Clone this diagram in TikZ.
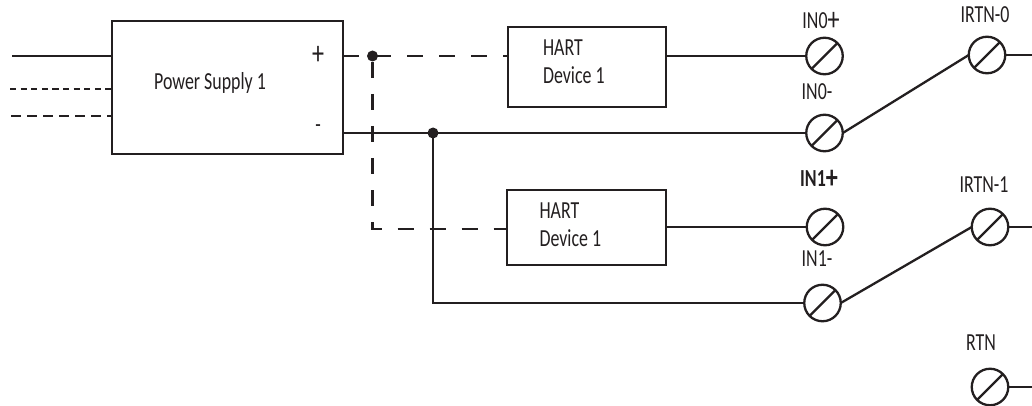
\documentclass[tikz,border=0pt]{standalone}
\usepackage{fontspec}
\setmainfont[FakeStretch=0.73]{Carlito}
\newcommand{\lbl}{\fontsize{24.5}{24.5}\selectfont}
\newcommand{\bigplus}{{\fontsize{33}{33}\selectfont\raisebox{-2.5pt}{+}}}
\definecolor{ink}{HTML}{231F20}
\tikzset{
  wire/.style={line width=2.3pt,draw=ink},
  dashwire/.style={wire,dash pattern=on 16pt off 16pt},
  dotwire/.style={wire,dash pattern=on 6.2pt off 4.4pt},
  shortdash/.style={wire,dash pattern=on 10pt off 6pt},
  box/.style={draw=ink,line width=2.3pt,rectangle,inner sep=0,outer sep=0,fill=white},
  term/.style={draw=ink,line width=2.3pt,circle,inner sep=0,outer sep=0,minimum size=36.5pt},
  junction/.style={circle,fill=ink,inner sep=0,outer sep=0,minimum size=11pt},
  txt/.style={text=ink,font=\lbl,inner sep=0,outer sep=0,anchor=center},
}
\newcommand{\termnode}[2]{%
  \node[term] (#1) at (#2) {};
  \draw[wire] (#1.south west) -- (#1.north east);}
\begin{document}
\begin{tikzpicture}[x=1pt,y=-1pt]
\useasboundingbox (0,0) rectangle (1032,406);
% boxes
\node[box,minimum width=231pt,minimum height=133pt] (ps) at (227.5,87.5) {};
\node[box,minimum width=158pt,minimum height=80pt] (dev1) at (587,67) {};
\node[box,minimum width=159pt,minimum height=75pt] (dev2) at (586.5,227.5) {};
% free ends
\coordinate (a1) at (12,56);
\coordinate (a2) at (10,89);
\coordinate (a3) at (11,116);
\coordinate (ps1) at (ps.west |- a1);
\coordinate (ps2) at (ps.west |- a2);
\coordinate (ps3) at (ps.west |- a3);
\coordinate (pplus) at (343,56);
\coordinate (pminus) at (343,133);
\coordinate (corner) at (372.5,229);
\coordinate (corner2) at (433,303);
\coordinate (d1in) at (508,56);
\coordinate (d2in) at (507,229);
\coordinate (d1out) at (666,56);
\coordinate (d2out) at (666,227);
\coordinate (r0) at (1032,55);
\coordinate (r1) at (1032,227);
\coordinate (r2) at (1032,387);
% terminals
\termnode{inzp}{824.5,56}
\termnode{inzm}{824.5,133}
\termnode{inop}{825,227}
\termnode{inom}{822.5,303}
\termnode{irz}{987,55}
\termnode{iro}{990,227}
\termnode{rtn}{990,387}
% junctions
\node[junction] (j1) at (372.5,56) {};
\node[junction] (j2) at (433,133) {};
% wires
\draw[wire] (a1) -- (ps1);
\draw[dotwire] (a2) -- (ps2);
\draw[shortdash] (a3) -- (ps3);
\draw[dashwire] (pplus) -- (d1in);
\draw[dashwire,dash phase=26pt] (j1.center) -- (corner) -- (d2in);
\draw[wire] (pminus) -- (inzm.west);
\draw[wire] (j2.center) -- (corner2) -- (inom.west);
\draw[wire] (d1out) -- (inzp.west);
\draw[wire] (d2out) -- (inop.west);
\draw[wire] (inzm.east) -- (irz.west);
\draw[wire] (inom.east) -- (iro.west);
\draw[wire] (irz.east) -- (r0);
\draw[wire] (iro.east) -- (r1);
\draw[wire] (rtn.east) -- (r2);
% text
\node[txt] (tps) at (210,83) {Power Supply 1};
\node[txt] (tplus) at (318,55.5) {\bigplus};
\node[txt] (tminus) at (318,129) {-};
\node[txt,anchor=west] (t1a) at (543,48) {HART};
\node[txt,anchor=west] (t1b) at (543,75) {Device 1};
\node[txt,anchor=west] (t2a) at (539.5,211) {HART};
\node[txt,anchor=west] (t2b) at (539.5,238) {Device 1};
\node[txt] (l1) at (821,21.5) {IN0\bigplus};
\node[txt] (l2) at (817,92) {IN0-};
\node[txt] (l3) at (819,179.5) {\textbf{IN1\bigplus}};
\node[txt] (l4) at (817,259) {IN1-};
\node[txt] (l5) at (985,15) {IRTN-0};
\node[txt] (l6) at (984,185) {IRTN-1};
\node[txt] (l7) at (981,343) {RTN};
\end{tikzpicture}
\end{document}
